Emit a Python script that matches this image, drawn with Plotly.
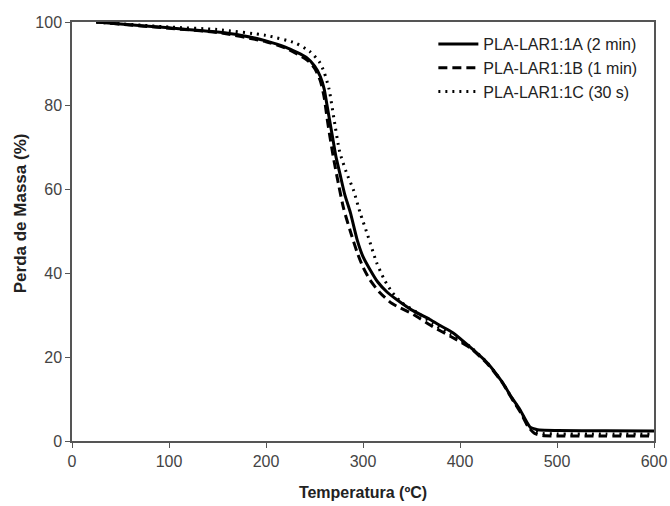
import plotly.graph_objects as go

# Series A: PLA-LAR1:1A (2 min)
temp_a = [25, 50, 100, 150, 175, 200, 220, 242, 250, 256, 260, 263, 266, 269, 272, 276, 281, 287, 294, 300,
          307, 315, 325, 335, 350, 369, 380, 393, 410, 428, 444, 453, 462, 472, 478, 482, 500, 550, 600]
mass_a = [100, 99.5, 98.6, 97.6, 96.8, 95.5, 94, 91.5, 89.5, 87, 84, 80, 76, 72, 68, 64, 59, 54.5, 48, 44,
          41, 38, 35.5, 33.7, 31.3, 29, 27.5, 25.8, 22.5, 18.7, 13.9, 10.5, 7.4, 3.4, 2.8, 2.6, 2.5, 2.45, 2.4]

# Series B: PLA-LAR1:1B (1 min)
temp_b = [25, 100, 150, 200, 220, 242, 250, 256, 260, 263, 266, 270, 275, 280, 287, 294, 300, 307, 317,
          330, 352, 372, 390, 410, 428, 444, 453, 462, 470, 477, 485, 500, 550, 600]
mass_b = [100, 98.5, 97.5, 95.3, 93.8, 91, 89, 86, 82, 77, 72.5, 67, 61, 55.5, 50, 45, 41.5, 38.5, 35.5,
          32.8, 30.2, 27.3, 25, 22.3, 18.5, 13.8, 10.3, 7, 3.5, 1.8, 1.3, 1.2, 1.2, 1.2]

# Series C: PLA-LAR1:1C (30 s)
temp_c = [25, 100, 150, 200, 230, 245, 255, 260, 265, 270, 276, 283, 290, 297, 305, 314, 322, 330, 340,
          355, 372, 390, 410, 428, 444, 453, 462, 471, 478, 485, 500, 550, 600]
mass_c = [100, 98.8, 98.2, 96.8, 95, 93, 90.5, 88, 84, 77, 69, 64, 60, 54.5, 49, 42.6, 38.5, 35.5, 33,
          30.8, 28, 25.5, 22.6, 18.7, 13.9, 10.4, 7.2, 3.4, 2.2, 1.8, 1.7, 1.7, 1.7]

names = ["PLA-LAR1:1A (2 min)", "PLA-LAR1:1B (1 min)", "PLA-LAR1:1C (30 s)"]
x_ticks = [0, 100, 200, 300, 400, 500, 600]
y_ticks = [0, 20, 40, 60, 80, 100]

FONT = "Liberation Sans, Arial, sans-serif"

fig = go.Figure()
fig.add_trace(go.Scatter(x=temp_a, y=mass_a, mode="lines", name=names[0],
                         line=dict(color="black", width=3, dash="solid", shape="spline", smoothing=0.6)))
fig.add_trace(go.Scatter(x=temp_b, y=mass_b, mode="lines", name=names[1],
                         line=dict(color="black", width=3, dash="9px,5px", shape="spline", smoothing=0.6)))
fig.add_trace(go.Scatter(x=temp_c, y=mass_c, mode="lines", name=names[2],
                         line=dict(color="black", width=3, dash="2px,5px", shape="spline", smoothing=0.6)))

axis_common = dict(showline=True, linecolor="#555", linewidth=1.5, mirror=True,
                   ticks="outside", ticklen=5, tickwidth=1.2, tickcolor="#555",
                   showgrid=False, zeroline=False, automargin=False,
                   tickfont=dict(family=FONT, size=16, color="#444"))

fig.update_xaxes(range=[0, 600], tickvals=x_ticks,
                 title=dict(text="<b>Temperatura (ºC)</b>", standoff=18,
                            font=dict(family=FONT, size=16, color="#222")),
                 **axis_common)
fig.update_yaxes(range=[0, 100], tickvals=y_ticks, **axis_common)

fig.add_annotation(text="<b>Perda de Massa (%)</b>", textangle=-90, xref="paper", yref="paper",
                   x=-0.089, y=0.544, showarrow=False, xanchor="center", yanchor="middle",
                   font=dict(family=FONT, size=17, color="#222"))

fig.update_layout(
    width=670, height=506,
    margin=dict(l=72, r=16, t=22, b=65, autoexpand=False),
    plot_bgcolor="white", paper_bgcolor="white",
    showlegend=True,
    legend=dict(x=0.98, y=0.988, xanchor="right", yanchor="top", bgcolor="rgba(0,0,0,0)",
                font=dict(family=FONT, size=16, color="#222"),
                itemwidth=40),
)

fig.write_html("out.html")
